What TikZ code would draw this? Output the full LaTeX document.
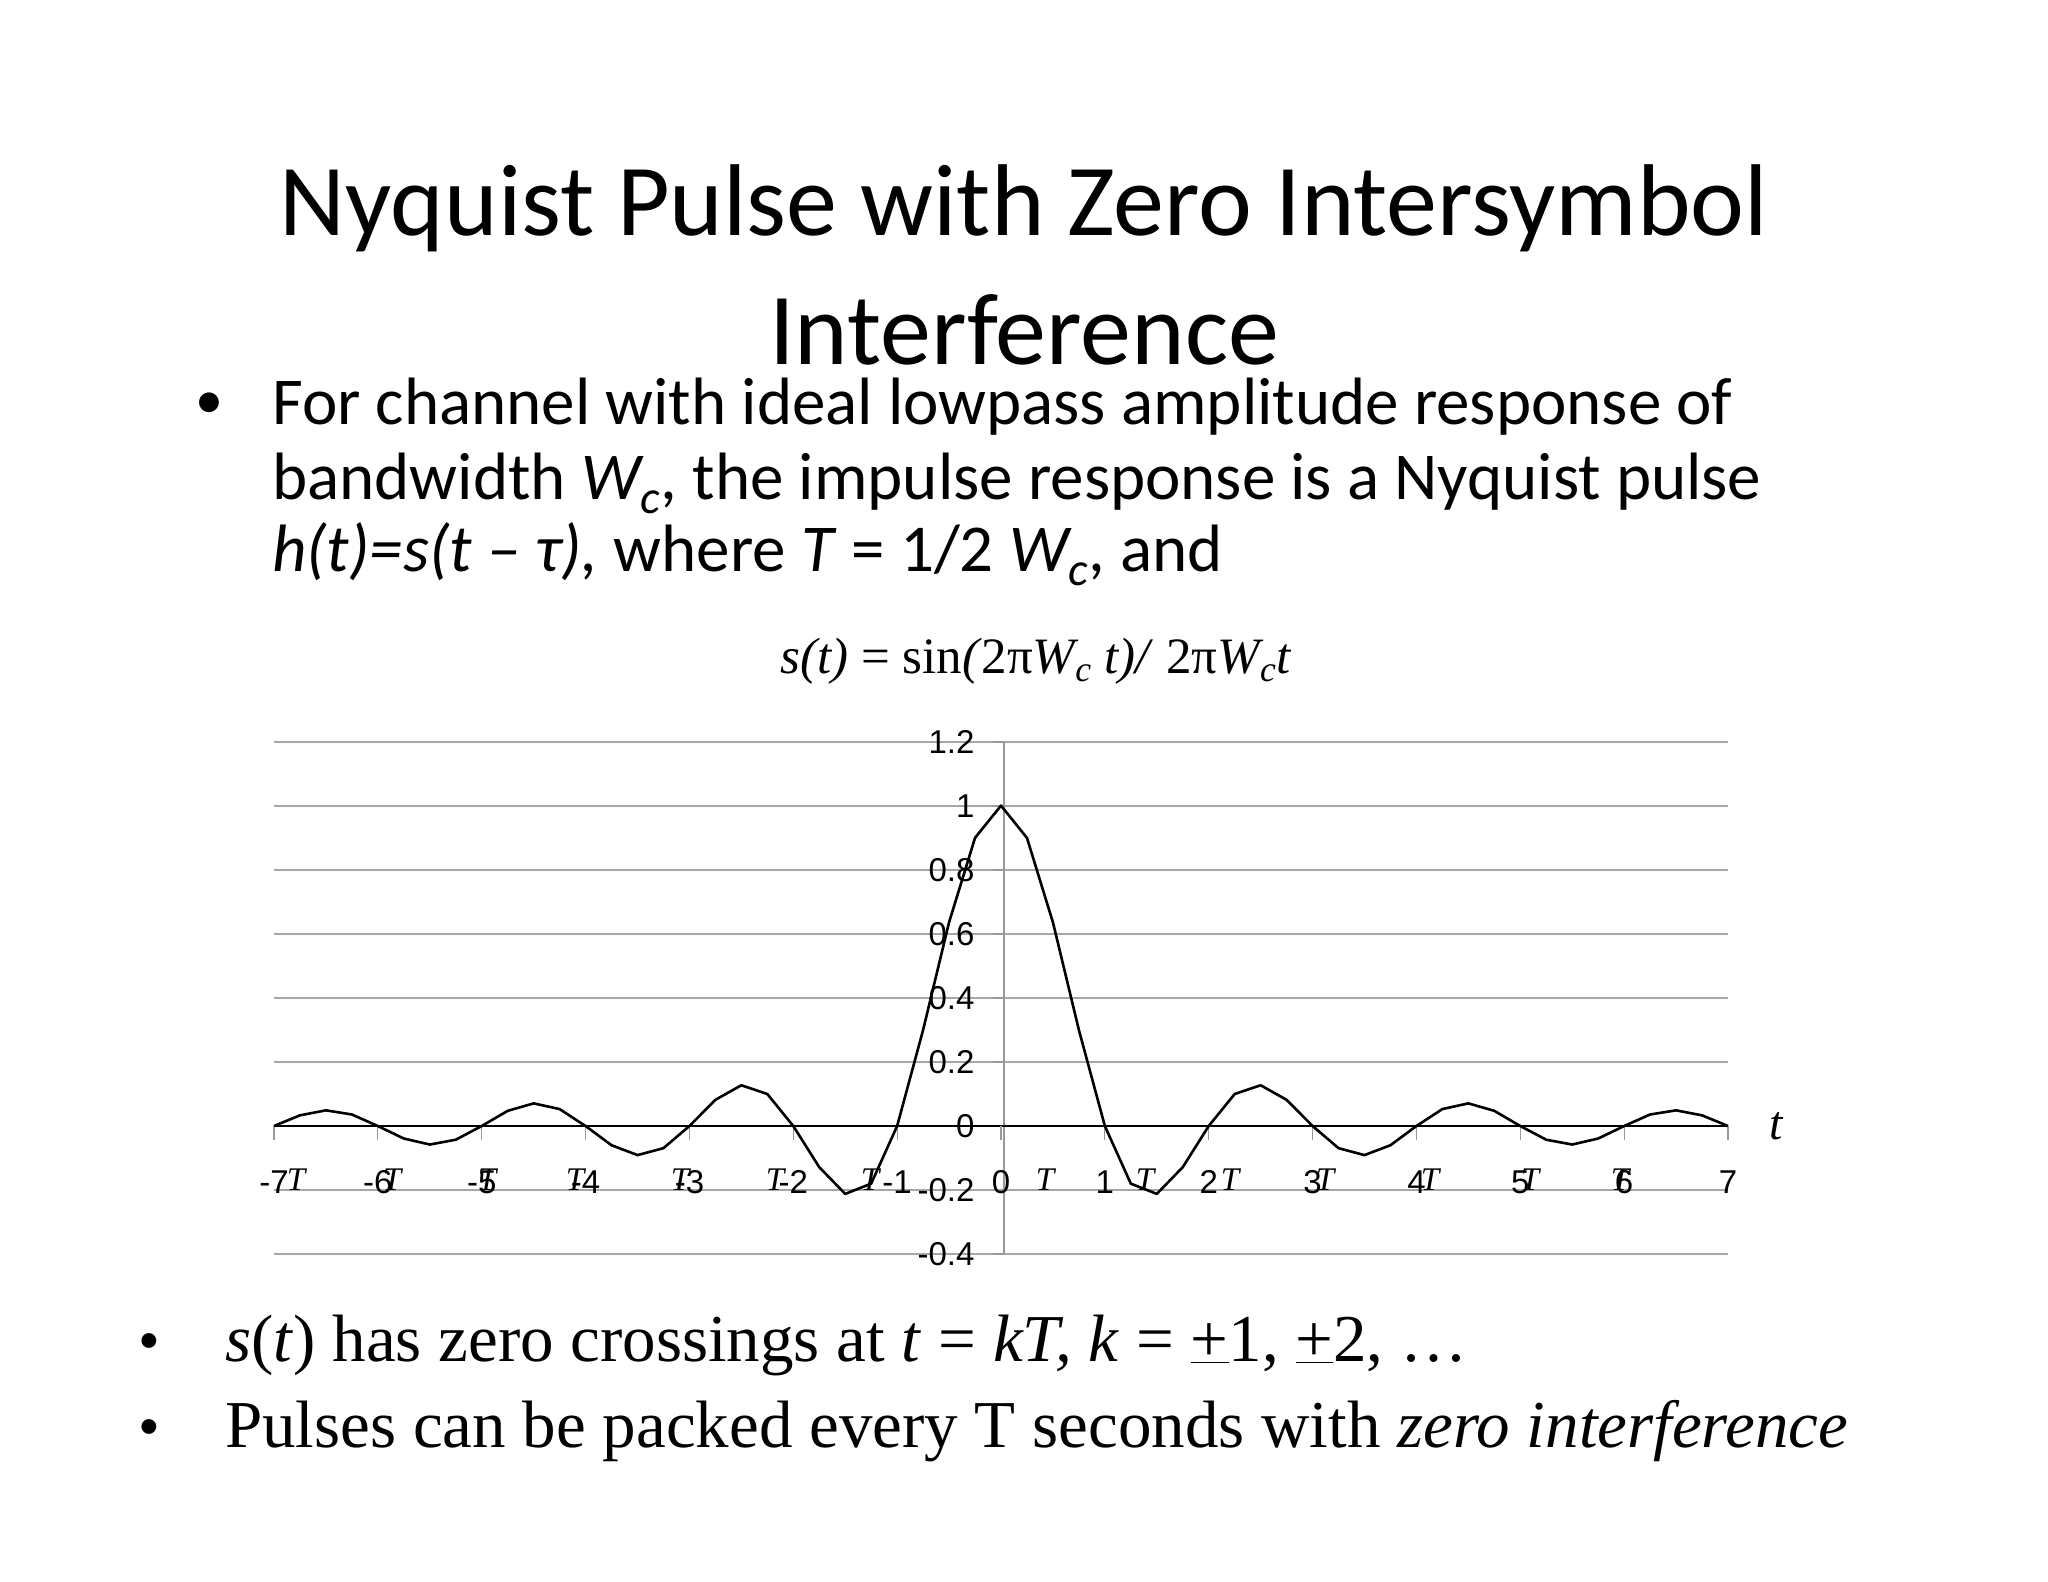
\documentclass[tikz,border=0pt]{standalone}
\usepackage{fontspec}
\setmainfont{Carlito}
\newfontfamily\tms{Liberation Serif}
\newfontfamily\ars{Liberation Sans}
\begin{document}
\begin{tikzpicture}[x=1pt,y=-1pt,
  grid/.style={gray!70,line width=1.2pt},
  ylab/.style={anchor=east,font=\ars\fontsize{33}{33}\selectfont},
  xlab/.style={font=\ars\fontsize{33}{33}\selectfont},
  tlab/.style={font=\tms\itshape\fontsize{33}{33}\selectfont}]
\useasboundingbox[fill=white] (0,0) rectangle (2048,1582);
\node[font=\fontsize{102}{102}\selectfont] (title1) at (1024,208) {Nyquist Pulse with Zero Intersymbol};
\node[font=\fontsize{102}{102}\selectfont] (title2) at (1024,330) {Interference};
\node[anchor=base west,font=\fontsize{56}{56}\selectfont] (b0) at (192,418) {\textbullet};
\node[anchor=base west,font=\fontsize{67}{67}\selectfont,inner sep=0pt] (b1) at (272,424) {For channel with ideal lowpass amplitude response of};
\node[anchor=base west,font=\fontsize{67}{67}\selectfont,inner sep=0pt] (b2) at (272,499) {bandwidth \textit{W\textsubscript{c}}, the impulse response is a Nyquist pulse};
\node[anchor=base west,font=\fontsize{67}{67}\selectfont,inner sep=0pt] (b3) at (272,571) {\textit{h(t)=s(t – τ),} where \textit{T} = 1/2 \textit{W\textsubscript{c}}, and};
\node[anchor=base,font=\tms\fontsize{51}{51}\selectfont,inner sep=0pt] (formula) at (1036,673) {\textit{s(t)} = sin\textit{(}2π\textit{W\textsubscript{c} t)/} 2π\textit{W\textsubscript{c}t}};
% grid
\foreach \v in {1.2,1,0.8,0.6,0.4,0.2,-0.2,-0.4}{
  \draw[grid] (274,{1126-320*\v}) -- (1728,{1126-320*\v});
  \node[ylab] at (978,{1126-320*\v}) {\v};}
\node[ylab] at (978,1126) {0};
\draw[gray!80,line width=1.2pt] (1004,742) -- (1004,1254);
\foreach \v in {1.2,1,0.8,0.6,0.4,0.2,0,-0.2,-0.4}
  \draw[gray!80,line width=1.2pt] (994,{1126-320*\v}) -- (1004,{1126-320*\v});
\draw[black,line width=1.5pt] (274,1126) -- (1728,1126);
\foreach \k in {-7,...,7}{
  \draw[gray!80,line width=1.2pt] ({274+(\k+7)*103.857},1126) -- ({274+(\k+7)*103.857},1140);
  \node[xlab] at ({274+(\k+7)*103.857},1182) {\k};}
\foreach \p in {296,392,487,575,680,775,870,1045,1145,1230,1325,1430,1530,1620}
  \node[tlab] at (\p,1180) {T};
\node[font=\tms\itshape\fontsize{48}{48}\selectfont] (tt) at (1776,1126) {t};
\draw[black,line width=2.6pt,line join=round] plot[domain=-7:7,samples=57]
  ({274+(\x+7)*103.857},{1126-320*sin(180*(\x+0.0001))/(pi*(\x+0.0001))});
% bottom bullets
\node[anchor=base west,font=\tms\fontsize{62}{62}\selectfont] (c0) at (135,1361) {\textbullet};
\node[anchor=base west,font=\tms\fontsize{62}{62}\selectfont] (d0) at (135,1447) {\textbullet};
\node[anchor=base west,font=\tms\fontsize{67}{67}\selectfont,inner sep=0pt] (c1) at (225,1361) {\textit{s}(\textit{t}) has zero crossings at \textit{t} = \textit{kT, k} = \underline{+}1, \underline{+}2, …};
\node[anchor=base west,font=\tms\fontsize{67}{67}\selectfont,inner sep=0pt] (d1) at (225,1447) {Pulses can be packed every T seconds with \textit{zero interference}};
\end{tikzpicture}
\end{document}
